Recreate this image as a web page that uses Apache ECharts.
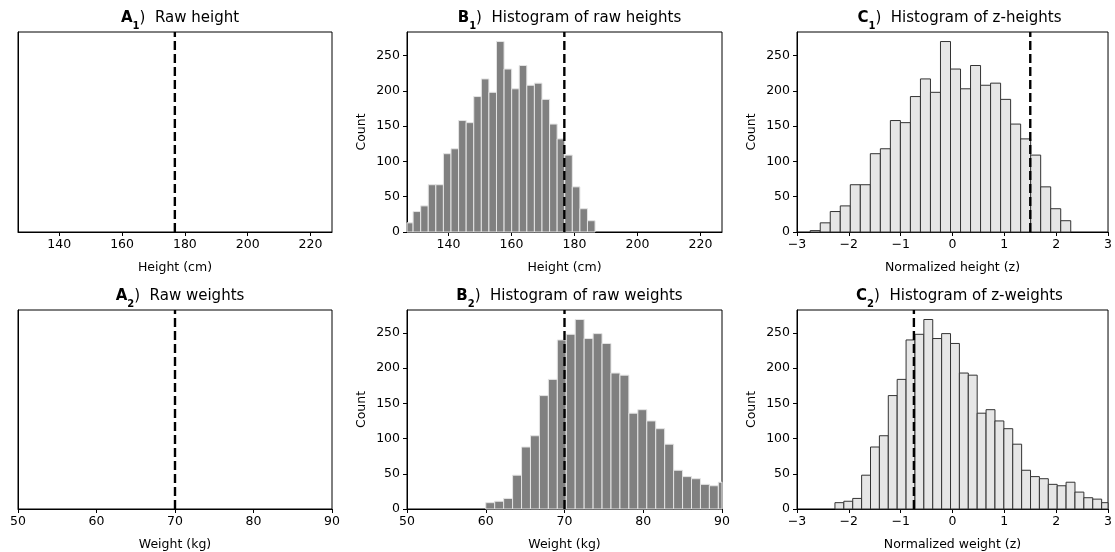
<!DOCTYPE html>
<html>
<head>
<meta charset="utf-8">
<script src="https://cdn.jsdelivr.net/npm/echarts@6/dist/echarts.min.js"></script>
<style>
html,body{margin:0;padding:0;background:#fff;}
#chart{width:1115px;height:552px;}
</style>
</head>
<body>
<div id="chart"></div>
<script>
// ---- Data ----
// Height histogram (same counts used for raw and z-scored panels)
const heightCounts = [2, 13, 29, 37, 67, 67, 111, 118, 158, 155, 192, 217, 198, 270, 231, 203, 236, 208, 211, 188, 153, 132, 109, 64, 33, 16];
const heightBinStart = 123.97;   // cm
const heightBinWidth = 2.407;    // cm
const zHeightBinStart = -2.745;  // z
const zHeightBinWidth = 0.1933;  // z
const heightMarker = 176.8;      // cm
const zHeightMarker = 1.5;

// Weight histogram
const weightCounts = [9, 11, 15, 48, 88, 104, 161, 184, 240, 248, 269, 242, 249, 235, 193, 190, 136, 141, 125, 114, 92, 55, 46, 43, 35, 33, 38, 24, 16, 14, 9];
const weightBinStart = 60.0;     // kg
const weightBinWidth = 1.136;    // kg
const zWeightBinStart = -2.268;
const zWeightBinWidth = 0.1715;
const weightMarker = 70;
const zWeightMarker = -0.745;

// Axis ticks
const heightTicks = [140, 160, 180, 200, 220];
const weightTicks = [50, 60, 70, 80, 90];
const zTicks = [-3, -2, -1, 0, 1, 2, 3];
const countTicks = [0, 50, 100, 150, 200, 250];

const titles = [
  ['A', '1', 'Raw height'],
  ['B', '1', 'Histogram of raw heights'],
  ['C', '1', 'Histogram of z-heights'],
  ['A', '2', 'Raw weights'],
  ['B', '2', 'Histogram of raw weights'],
  ['C', '2', 'Histogram of z-weights']
];
const xNames = ['Height (cm)', 'Height (cm)', 'Normalized height (z)', 'Weight (kg)', 'Weight (kg)', 'Normalized weight (z)'];

// ---- Build chart ----
function bins(counts, start, width) {
  return counts.map((c, i) => [start + i * width, start + (i + 1) * width, c]);
}

const FONT = 'DejaVu Sans';
const colLeft = [18, 407, 797];
const colWidth = [314, 315, 315];
const rowTop = [32, 310];
const H = 200;

const grids = [], xAxes = [], yAxes = [], series = [], titleOpts = [];

const panels = [
  {kind: 'A', xmin: 126.85, xmax: 226.85, ticks: heightTicks, marker: heightMarker},
  {kind: 'B', xmin: 126.85, xmax: 226.85, ticks: heightTicks, marker: heightMarker,
   data: bins(heightCounts, heightBinStart, heightBinWidth), ymax: 283.5},
  {kind: 'C', xmin: -3, xmax: 3, ticks: zTicks, marker: zHeightMarker,
   data: bins(heightCounts, zHeightBinStart, zHeightBinWidth), ymax: 283.5},
  {kind: 'A', xmin: 50, xmax: 90, ticks: weightTicks, marker: weightMarker},
  {kind: 'B', xmin: 50, xmax: 90, ticks: weightTicks, marker: weightMarker,
   data: bins(weightCounts, weightBinStart, weightBinWidth), ymax: 282.5},
  {kind: 'C', xmin: -3, xmax: 3, ticks: zTicks, marker: zWeightMarker,
   data: bins(weightCounts, zWeightBinStart, zWeightBinWidth), ymax: 282.5}
];

function makeRender(fill, stroke) {
  return function (params, api) {
    const x0 = api.value(0), x1 = api.value(1), h = api.value(2);
    const p0 = api.coord([x0, h]);
    const p1 = api.coord([x1, 0]);
    const cs = params.coordSys;
    const rect = echarts.graphic.clipRectByRect(
      {x: p0[0], y: p0[1], width: p1[0] - p0[0], height: p1[1] - p0[1]},
      {x: cs.x, y: cs.y, width: cs.width, height: cs.height}
    );
    if (!rect) return null;
    return {type: 'rect', shape: rect, style: {fill: fill, stroke: stroke, lineWidth: 1}};
  };
}

panels.forEach((p, i) => {
  const r = Math.floor(i / 3), c = i % 3;
  const left = colLeft[c], top = rowTop[r], w = colWidth[c];
  grids.push({left: left, top: top, width: w, height: H, show: true,
    borderColor: '#000', borderWidth: 1, backgroundColor: 'transparent', containLabel: false});
  const fmt = v => (v < 0 ? '\u2212' + Math.abs(v) : String(v));
  xAxes.push({
    type: 'value', gridIndex: i, min: p.xmin, max: p.xmax,
    name: xNames[i], nameLocation: 'middle', nameGap: 29,
    nameTextStyle: {fontFamily: FONT, fontSize: 12.5, color: '#000'},
    axisLine: {show: true, onZero: false, lineStyle: {color: '#000', width: 1}},
    axisTick: {show: true, length: 4, customValues: p.ticks, lineStyle: {color: '#000'}},
    axisLabel: {show: true, customValues: p.ticks, margin: 6, formatter: fmt,
      fontFamily: FONT, fontSize: 12.5, color: '#000'},
    splitLine: {show: false}
  });
  const isA = p.kind === 'A';
  yAxes.push({
    type: 'value', gridIndex: i, min: 0, max: isA ? 1 : p.ymax,
    name: isA ? '' : 'Count', nameLocation: 'middle', nameGap: 39,
    nameTextStyle: {fontFamily: FONT, fontSize: 12.5, color: '#000'},
    axisLine: {show: true, onZero: false, lineStyle: {color: '#000', width: 1}},
    axisTick: {show: !isA, length: 4, customValues: countTicks, lineStyle: {color: '#000'}},
    axisLabel: {show: !isA, customValues: countTicks, margin: 7,
      fontFamily: FONT, fontSize: 12.5, color: '#000'},
    splitLine: {show: false}
  });
  if (!isA) {
    const isB = p.kind === 'B';
    series.push({
      type: 'custom', xAxisIndex: i, yAxisIndex: i,
      renderItem: makeRender(isB ? '#808080' : '#e6e6e6', isB ? '#e4e4e4' : '#333333'),
      encode: {x: [0, 1], y: 2},
      data: p.data, z: 2, silent: true, animation: false
    });
  }
  series.push({
    type: 'line', xAxisIndex: i, yAxisIndex: i, z: 5,
    data: [[p.marker, 0], [p.marker, isA ? 1 : p.ymax]],
    symbol: 'none', silent: true, animation: false,
    lineStyle: {color: '#000', width: 2.4, type: [9, 4]}
  });
  const t = titles[i];
  titleOpts.push({
    text: '{b|' + t[0] + '}{s|' + t[1] + '}{n|)  ' + t[2] + '}',
    left: left + w / 2, top: top - 29, textAlign: 'center',
    textStyle: {
      fontWeight: 'normal',
      rich: {
        b: {fontFamily: FONT, fontSize: 15, fontWeight: 'bold', color: '#000', lineHeight: 20},
        s: {fontFamily: FONT, fontSize: 10, fontWeight: 'bold', color: '#000', lineHeight: 12, verticalAlign: 'bottom', padding: [0, 0, -3, 0]},
        n: {fontFamily: FONT, fontSize: 15, fontWeight: 'normal', color: '#000', lineHeight: 20}
      }
    }
  });
});

const chart = echarts.init(document.getElementById('chart'), null, {renderer: 'canvas'});
chart.setOption({
  backgroundColor: '#fff',
  animation: false,
  title: titleOpts,
  grid: grids,
  xAxis: xAxes,
  yAxis: yAxes,
  series: series
});
</script>
</body>
</html>
